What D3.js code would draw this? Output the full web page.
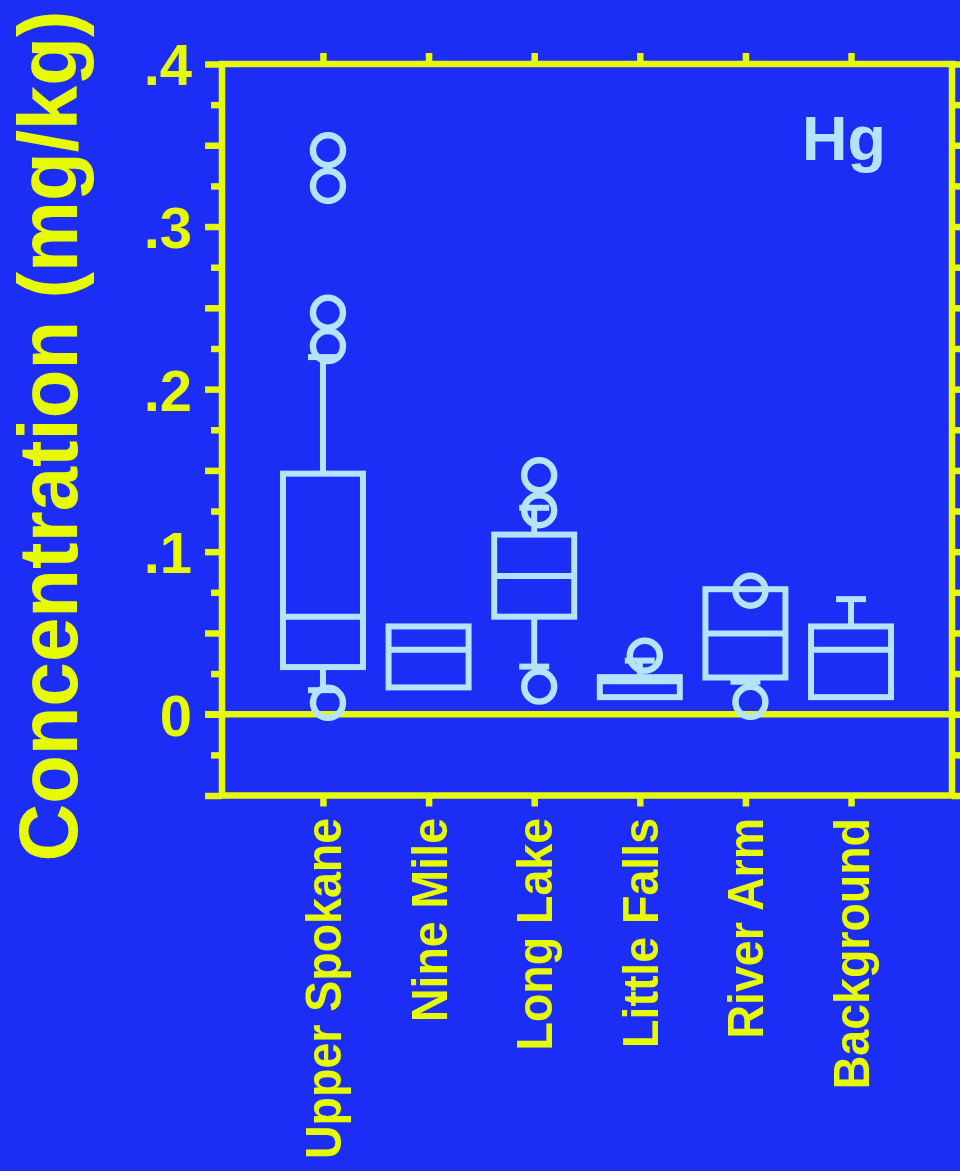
<!DOCTYPE html>
<html>
<head>
<meta charset="utf-8">
<script src="https://cdn.jsdelivr.net/npm/d3@7/dist/d3.min.js"></script>
<style>
  html, body { margin: 0; padding: 0; background: #1c2df6; }
  svg { display: block; }
  text { font-family: "Liberation Sans", Arial, Helvetica, sans-serif; font-weight: bold; }
</style>
</head>
<body>
<svg id="chart" width="960" height="1171"></svg>
<script>
// Mercury (Hg) concentrations in sediment by site, mg/kg
const categories = ["Upper Spokane", "Nine Mile", "Long Lake", "Little Falls", "River Arm", "Background"];
const q1        = [0.029,  0.0165, 0.060,  0.0105, 0.0226, 0.0105];
const medians   = [0.060,  0.0397, 0.085,  0.0203, 0.0496, 0.0396];
const q3        = [0.148,  0.054,  0.1105, 0.0228, 0.0769, 0.054];
const whiskerLo = [0.0148, null,   0.0293, null,   0.020,  null];
const whiskerHi = [0.2197, null,   0.127,  0.033,  null,   0.0708];
const outliers  = [
  [0.347, 0.325, 0.247, 0.2265, 0.007],
  [],
  [0.147, 0.1255, 0.017],
  [0.036],
  [0.076, 0.0076],
  []
];
const yTickValues = [0, 0.1, 0.2, 0.3, 0.4];
const yTickLabels = ["0", ".1", ".2", ".3", ".4"];
const yMajorTicks = [-0.05, 0, 0.05, 0.1, 0.15, 0.2, 0.25, 0.3, 0.35, 0.4];
const yMinorTicks = [-0.025, 0.025, 0.075, 0.125, 0.175, 0.225, 0.275, 0.325, 0.375];
const elementLabel = "Hg";
const yTitle = "Concentration (mg/kg)";

const YELLOW = "#e6fb00";
const BOXC = "#b4e4fb";
const LW = 6.5;

const svg = d3.select("#chart");
const plot = { left: 222, right: 952, top: 64, bottom: 795.5 };

const x = d3.scalePoint().domain(categories).range([plot.left, plot.right]).padding(0.956);
const y = d3.scaleLinear().domain([-0.05, 0.4]).range([plot.bottom, plot.top]);

// frame
svg.append("rect")
  .attr("x", plot.left).attr("y", plot.top)
  .attr("width", plot.right - plot.left).attr("height", plot.bottom - plot.top)
  .attr("fill", "none").attr("stroke", YELLOW).attr("stroke-width", LW);

function styleTicks(g) {
  g.select(".domain").remove();
  g.selectAll(".tick line").attr("stroke", YELLOW).attr("stroke-width", LW);
}

// left / right ticks
svg.append("g").attr("transform", `translate(${plot.left},0)`)
  .call(d3.axisLeft(y).tickValues(yMajorTicks).tickSize(17).tickFormat(""))
  .call(styleTicks);
svg.append("g").attr("transform", `translate(${plot.left},0)`)
  .call(d3.axisLeft(y).tickValues(yMinorTicks).tickSize(11).tickFormat(""))
  .call(styleTicks);
svg.append("g").attr("transform", `translate(${plot.right},0)`)
  .call(d3.axisRight(y).tickValues(yMajorTicks).tickSize(17).tickFormat(""))
  .call(styleTicks);
svg.append("g").attr("transform", `translate(${plot.right},0)`)
  .call(d3.axisRight(y).tickValues(yMinorTicks).tickSize(11).tickFormat(""))
  .call(styleTicks);

// y tick labels
const yLab = svg.append("g").attr("transform", `translate(${plot.left},0)`)
  .call(d3.axisLeft(y).tickValues(yTickValues).tickSize(0).tickPadding(30)
    .tickFormat((d, i) => yTickLabels[i]));
yLab.select(".domain").remove();
yLab.selectAll("text")
  .attr("fill", YELLOW).attr("font-size", 58)
  .attr("font-family", "'Liberation Sans', Arial, sans-serif").attr("font-weight", "bold")
  .attr("dy", "0.36em");

// top / bottom category ticks
svg.append("g").attr("transform", `translate(0,${plot.top})`)
  .call(d3.axisTop(x).tickSize(11).tickFormat(""))
  .call(styleTicks);
svg.append("g").attr("transform", `translate(0,${plot.bottom})`)
  .call(d3.axisBottom(x).tickSize(11).tickFormat(""))
  .call(styleTicks);

// zero line
svg.append("line")
  .attr("x1", plot.left - 17).attr("x2", plot.right)
  .attr("y1", y(0)).attr("y2", y(0))
  .attr("stroke", YELLOW).attr("stroke-width", LW);

// box plots
const boxHalf = 40;
const capHalf = 15;
const boxes = svg.append("g")
  .attr("fill", "none").attr("stroke", BOXC).attr("stroke-width", 6);

categories.forEach((c, i) => {
  const cx = x(c);
  const g = boxes.append("g");
  if (whiskerHi[i] != null) {
    g.append("line").attr("x1", cx).attr("x2", cx).attr("y1", y(q3[i])).attr("y2", y(whiskerHi[i]));
    g.append("line").attr("x1", cx - capHalf).attr("x2", cx + capHalf).attr("y1", y(whiskerHi[i])).attr("y2", y(whiskerHi[i]));
  }
  if (whiskerLo[i] != null) {
    g.append("line").attr("x1", cx).attr("x2", cx).attr("y1", y(q1[i])).attr("y2", y(whiskerLo[i]));
    g.append("line").attr("x1", cx - capHalf).attr("x2", cx + capHalf).attr("y1", y(whiskerLo[i])).attr("y2", y(whiskerLo[i]));
  }
  g.append("rect")
    .attr("x", cx - boxHalf).attr("width", boxHalf * 2)
    .attr("y", y(q3[i])).attr("height", y(q1[i]) - y(q3[i]));
  g.append("line")
    .attr("x1", cx - boxHalf).attr("x2", cx + boxHalf)
    .attr("y1", y(medians[i])).attr("y2", y(medians[i]));
});

// outliers (marker glyph sits slightly right of the box centre)
const pts = categories.flatMap((c, i) => outliers[i].map(v => ({ c, v })));
svg.append("g").selectAll("circle").data(pts).join("circle")
  .attr("cx", d => x(d.c) + 5)
  .attr("cy", d => y(d.v))
  .attr("r", 15)
  .attr("fill", "none").attr("stroke", BOXC).attr("stroke-width", 6.5);

// element label
svg.append("text")
  .attr("x", 802).attr("y", 160)
  .attr("fill", BOXC).attr("font-size", 63)
  .text(elementLabel);

// category labels (rotated, centred on their ticks)
svg.append("g").selectAll("text").data(categories).join("text")
  .attr("transform", d => `translate(${x(d)},818) rotate(-90) scale(0.93,1)`)
  .attr("text-anchor", "end")
  .attr("dy", "0.36em")
  .attr("fill", YELLOW).attr("font-size", 50)
  .text(d => d);

// y axis title
svg.append("text")
  .attr("transform", "translate(77,436) rotate(-90) scale(0.95,1)")
  .attr("text-anchor", "middle")
  .attr("fill", YELLOW).attr("font-size", 84)
  .text(yTitle);
</script>
</body>
</html>
